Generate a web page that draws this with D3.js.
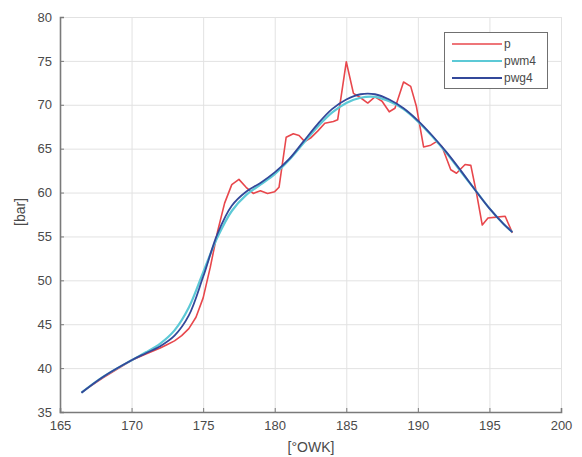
<!DOCTYPE html>
<html>
<head>
<meta charset="utf-8">
<script src="https://cdn.jsdelivr.net/npm/d3@7"></script>
<style>
  html, body { margin: 0; padding: 0; background: #fff; }
  svg { display: block; font-family: "Liberation Sans", Arial, sans-serif; }
</style>
</head>
<body>
<svg id="chart" width="582" height="457"></svg>
<script>
// Crank angle [°OWK] and cylinder pressure [bar]
const pAngle = [166.5, 167, 168, 169, 170, 171, 172, 172.5, 173, 173.5, 174, 174.5, 175, 175.5, 176, 176.5,
  177, 177.5, 178, 178.5, 179, 179.5, 180, 180.3, 180.8, 181.3, 181.7, 182.1, 182.5, 183, 183.5, 184.1,
  184.4, 185, 185.5, 186, 186.5, 187, 187.5, 188, 188.4, 189, 189.5, 189.9, 190.4, 190.9, 191.3, 191.7,
  192.3, 192.7, 193.3, 193.7, 194.1, 194.5, 194.9, 195.5, 196.1, 196.6];
const pValues = [37.2, 37.8, 38.9, 39.9, 40.9, 41.6, 42.3, 42.7, 43.1, 43.7, 44.5, 45.8, 48.0, 51.5, 55.5, 58.8,
  60.9, 61.5, 60.6, 59.9, 60.2, 59.9, 60.1, 60.6, 66.3, 66.7, 66.5, 65.8, 66.2, 67.0, 67.9, 68.1,
  68.3, 74.9, 71.3, 70.8, 70.2, 70.9, 70.4, 69.2, 69.6, 72.6, 72.1, 69.8, 65.2, 65.4, 65.8, 65.2,
  62.6, 62.2, 63.2, 63.1, 59.9, 56.3, 57.1, 57.2, 57.3, 55.4];

const smoothAngle = [166.5, 168, 170, 171, 172, 173, 174, 175, 176, 177, 178, 179, 180, 181, 182, 183,
  184, 185, 186, 187, 188, 189, 190, 191, 192, 193, 194, 195, 196, 196.6];
const pwm4Values = [37.2, 39.0, 40.9, 41.8, 42.8, 44.3, 46.9, 50.9, 54.9, 57.9, 59.7, 60.9, 62.1, 63.7, 65.6, 67.5,
  69.1, 70.2, 70.8, 70.9, 70.4, 69.5, 68.1, 66.4, 64.5, 62.4, 60.3, 58.2, 56.4, 55.5];
const pwg4Values = [37.2, 39.0, 40.9, 41.7, 42.5, 43.7, 46.0, 50.4, 55.3, 58.5, 60.1, 61.1, 62.3, 63.8, 65.8, 67.8,
  69.5, 70.6, 71.2, 71.2, 70.6, 69.6, 68.2, 66.5, 64.6, 62.5, 60.3, 58.2, 56.4, 55.5];

const xTicks = [165, 170, 175, 180, 185, 190, 195, 200];
const yTicks = [35, 40, 45, 50, 55, 60, 65, 70, 75, 80];
const seriesNames = ["p", "pwm4", "pwg4"];
const seriesColors = ["#e8474c", "#5cc9d6", "#33489a"];

const svg = d3.select("#chart");
const plotLeft = 60, plotRight = 561, plotTop = 17, plotBottom = 412;

const x = d3.scaleLinear().domain([165, 200]).range([plotLeft, plotRight]);
const y = d3.scaleLinear().domain([35, 80]).range([plotBottom, plotTop]);

// grid
const grid = svg.append("g").attr("stroke", "#e2e2e2").attr("stroke-width", 1);
grid.selectAll("line.v").data(xTicks.slice(1)).join("line")
  .attr("x1", d => x(d) + 0.5).attr("x2", d => x(d) + 0.5)
  .attr("y1", plotTop).attr("y2", plotBottom);
grid.selectAll("line.h").data(yTicks.slice(1)).join("line")
  .attr("x1", plotLeft).attr("x2", plotRight)
  .attr("y1", d => y(d) + 0.5).attr("y2", d => y(d) + 0.5);

// axes
const xAxis = d3.axisBottom(x).tickValues(xTicks).tickSize(-4).tickPadding(9).tickFormat(d3.format("d"));
const yAxis = d3.axisLeft(y).tickValues(yTicks).tickSize(-4).tickPadding(8).tickFormat(d3.format("d"));

const gx = svg.append("g").attr("transform", `translate(0,${plotBottom})`).call(xAxis);
const gy = svg.append("g").attr("transform", `translate(${plotLeft},0)`).call(yAxis);
[gx, gy].forEach(g => {
  g.select(".domain").attr("stroke", "#7a7a7a").attr("stroke-width", 1.6);
  g.selectAll(".tick line").attr("stroke", "#7a7a7a");
  g.selectAll(".tick text").attr("fill", "#4a4a4a").attr("font-size", 13)
    .attr("font-family", "Liberation Sans, Arial, sans-serif");
});

// axis titles
svg.append("text").attr("x", 311).attr("y", 452).attr("text-anchor", "middle")
  .attr("font-size", 14).attr("fill", "#4a4a4a").text("[°OWK]");
svg.append("text").attr("transform", "translate(25,212) rotate(-90)").attr("text-anchor", "middle")
  .attr("font-size", 14).attr("fill", "#4a4a4a").text("[bar]");

// curves: raw pressure as a polyline, the filtered traces smoothed
const rawLine = d3.line().x(d => x(d[0])).y(d => y(d[1]));
const smoothLine = d3.line().x(d => x(d[0])).y(d => y(d[1])).curve(d3.curveCatmullRom.alpha(0.5));
const series = [
  { xs: pAngle, ys: pValues, width: 1.6, gen: rawLine },
  { xs: smoothAngle, ys: pwm4Values, width: 2.2, gen: smoothLine },
  { xs: smoothAngle, ys: pwg4Values, width: 1.8, gen: smoothLine }
];
series.forEach((s, i) => {
  svg.append("path")
    .datum(d3.zip(s.xs, s.ys))
    .attr("fill", "none")
    .attr("stroke", seriesColors[i])
    .attr("stroke-width", s.width)
    .attr("stroke-linejoin", "round")
    .attr("d", s.gen);
});

// legend
const lg = svg.append("g");
lg.append("rect").attr("x", 444.5).attr("y", 32.5).attr("width", 103).attr("height", 56)
  .attr("fill", "#fff").attr("stroke", "#707070").attr("stroke-width", 1);
seriesNames.forEach((name, i) => {
  const yy = 44 + i * 17;
  lg.append("line").attr("x1", 452).attr("x2", 502).attr("y1", yy).attr("y2", yy)
    .attr("stroke", seriesColors[i]).attr("stroke-width", series[i].width);
  lg.append("text").attr("x", 504).attr("y", yy + 4).attr("font-size", 12)
    .attr("fill", "#4a4a4a").text(name);
});
</script>
</body>
</html>
